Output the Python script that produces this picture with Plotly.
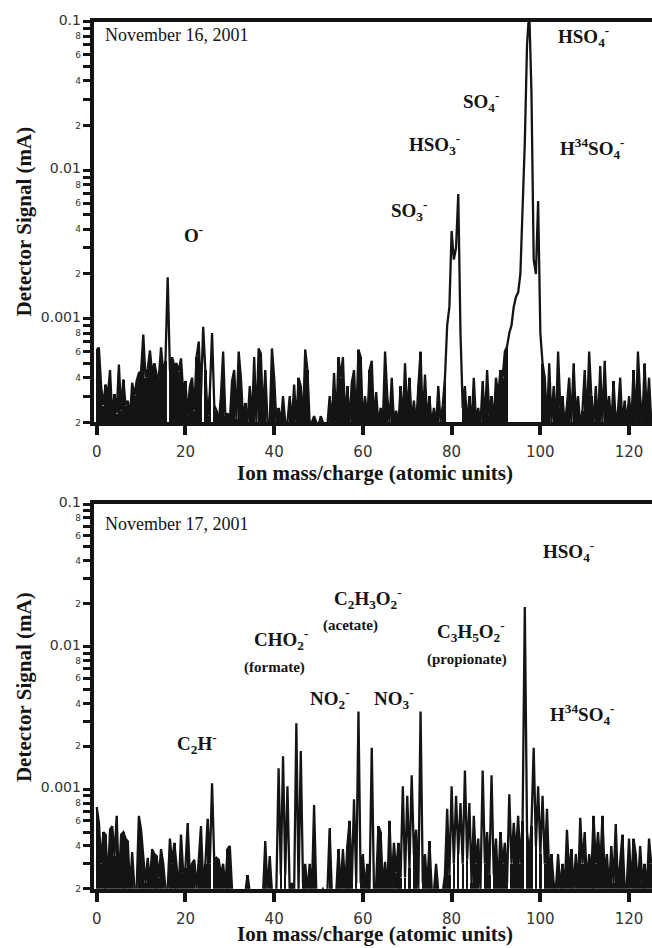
import numpy as np
import plotly.graph_objects as go

# ---- data (signal in units of 1e-4 mA, sampled every 0.5 amu from 0 to 125) ----
mass = np.arange(0, 125.5, 0.5)

nov16_e4 = [
    6.3, 6.3, 3.5, 2.6, 3.6, 3.0, 4.5, 2.2, 3.1, 2.3,
    4.9, 2.4, 3.9, 2.6, 2.8, 2.2, 3.7, 3.0, 3.8, 4.3,
    4.4, 7.8, 4.0, 4.6, 6.1, 4.3, 5.0, 4.2, 4.0, 6.4,
    4.3, 5.2, 19.0, 4.5, 5.5, 4.8, 5.0, 4.4, 5.4, 3.2,
    3.8, 2.2, 3.5, 4.0, 2.4, 5.5, 7.0, 3.0, 8.8, 4.5,
    2.2, 3.2, 8.0, 2.6, 2.4, 2.0, 3.0, 6.0, 2.2, 2.3,
    2.0, 3.8, 4.5, 2.1, 6.0, 4.0, 2.1, 2.7, 2.0, 3.5,
    2.1, 5.5, 2.0, 6.3, 5.8, 2.2, 4.5, 2.0, 2.0, 6.3,
    4.0, 2.0, 2.5, 2.0, 3.0, 2.0, 2.0, 3.0, 2.0, 3.6,
    2.0, 4.0, 3.5, 2.0, 6.2, 4.5, 2.0, 2.0, 2.2, 2.0,
    1.9, 2.2, 2.0, 1.9, 1.9, 3.0, 2.0, 4.3, 2.0, 5.5,
    4.0, 5.5, 2.0, 3.5, 2.0, 3.7, 4.5, 2.0, 6.2, 5.5,
    2.0, 3.0, 2.0, 4.5, 5.2, 2.0, 3.2, 1.9, 2.5, 2.0,
    6.0, 3.0, 2.0, 4.0, 2.0, 2.4, 1.9, 3.5, 2.0, 5.0,
    2.2, 4.0, 2.0, 2.8, 1.9, 3.5, 6.0, 2.0, 4.2, 2.0,
    3.0, 1.9, 2.5, 1.9, 3.5, 2.0, 2.6, 4.0, 9.0, 12.0,
    39.0, 25.0, 30.0, 69.0, 8.0, 2.5, 3.5, 1.9, 3.0, 1.9,
    4.0, 2.0, 2.5, 1.9, 3.8, 2.0, 4.5, 2.2, 3.0, 2.0,
    4.0, 3.0, 4.5, 4.0, 6.0, 6.5, 8.0, 9.0, 12.0, 14.0,
    15.0, 20.0, 60.0, 155.0, 700.0, 1200.0, 330.0, 25.0, 20.0, 62.0,
    8.0, 5.0, 4.0, 2.0, 5.0, 2.0, 3.5, 1.9, 6.0, 2.5,
    3.0, 1.9, 2.6, 4.0, 2.0, 5.0, 2.2, 3.0, 1.9, 2.4,
    4.5, 2.0, 6.0, 3.0, 2.0, 3.5, 1.9, 4.8, 2.0, 5.2,
    2.2, 3.0, 1.9, 3.8, 2.0, 2.4, 4.0, 1.9, 2.8, 2.0,
    3.0, 1.9, 4.5, 2.0, 6.0, 3.0, 2.0, 5.0, 2.2, 4.0,
    2.0,
]

nov17_e4 = [
    7.5, 5.8, 3.0, 5.0, 4.8, 2.2, 5.2, 5.5, 3.4, 6.5,
    2.2, 4.8, 5.0, 4.5, 4.3, 2.0, 3.6, 2.0, 2.0, 6.5,
    5.2, 3.5, 2.2, 3.3, 2.2, 3.8, 3.5, 3.4, 2.4, 3.8,
    3.0, 2.0, 2.0, 4.5, 3.0, 4.2, 2.8, 2.0, 4.8, 2.6,
    2.8, 5.8, 2.5, 3.0, 3.2, 2.0, 3.2, 5.5, 2.2, 3.0,
    6.2, 3.0, 11.0, 3.1, 3.3, 3.2, 2.5, 3.0, 2.0, 3.8,
    4.0, 2.0, 1.9, 1.9, 1.9, 1.9, 1.9, 1.9, 2.5, 1.9,
    1.9, 1.9, 1.9, 1.9, 1.9, 1.9, 4.3, 1.9, 3.4, 1.9,
    1.9, 2.0, 14.0, 2.5, 17.0, 2.5, 10.5, 1.9, 2.2, 1.9,
    29.0, 2.0, 18.5, 2.2, 3.0, 1.9, 3.0, 1.9, 7.7, 1.9,
    1.9, 1.9, 2.0, 1.9, 1.9, 5.3, 1.9, 1.9, 1.9, 3.8,
    2.0, 3.8, 2.0, 4.0, 6.0, 2.2, 8.5, 2.2, 35.0, 2.2,
    3.5, 2.0, 3.0, 2.0, 19.5, 2.0, 2.2, 5.5, 5.0, 2.0,
    3.1, 1.9, 6.0, 2.2, 4.2, 2.6, 4.2, 2.4, 10.5, 2.4,
    9.0, 2.8, 12.5, 3.5, 5.2, 2.0, 35.0, 2.2, 3.5, 2.0,
    4.3, 2.0, 1.9, 3.0, 1.9, 1.9, 1.9, 2.5, 7.3, 2.5,
    10.5, 3.0, 9.0, 3.5, 8.0, 3.0, 13.5, 3.2, 8.0, 2.2,
    6.5, 3.0, 4.5, 2.0, 13.5, 3.0, 5.0, 2.5, 12.5, 2.5,
    4.5, 2.0, 5.0, 3.0, 4.2, 2.2, 9.2, 3.0, 5.8, 3.5,
    6.5, 3.0, 6.0, 190.0, 5.0, 3.5, 5.5, 19.5, 4.0, 10.5,
    3.5, 9.0, 3.0, 7.3, 2.5, 3.5, 2.2, 2.0, 3.5, 2.0,
    3.0, 2.0, 5.2, 2.5, 3.8, 2.0, 3.5, 2.0, 6.3, 3.0,
    5.0, 2.2, 3.5, 2.5, 6.5, 3.0, 5.0, 2.8, 6.5, 2.5,
    3.5, 2.0, 4.0, 2.2, 5.7, 2.0, 3.0, 4.8, 2.0, 2.2,
    4.5, 2.0, 4.5, 3.5, 2.0, 4.0, 2.2, 3.0, 2.0, 4.5,
    3.0,
]

x_ticks = [0, 20, 40, 60, 80, 100, 120]
dates = ["November 16, 2001", "November 17, 2001"]

# ion labels: (text, mass, log10 signal, size)
labels16 = [
    ("O<sup>-</sup>", 21.8, -2.43, 19),
    ("SO<sub>3</sub><sup>-</sup>", 70.3, -2.27, 19),
    ("HSO<sub>3</sub><sup>-</sup>", 76.2, -1.825, 19),
    ("SO<sub>4</sub><sup>-</sup>", 86.7, -1.54, 19),
    ("HSO<sub>4</sub><sup>-</sup>", 109.7, -1.10, 19),
    ("H<sup>34</sup>SO<sub>4</sub><sup>-</sup>", 111.7, -1.853, 19),
]
labels17 = [
    ("C<sub>2</sub>H<sup>-</sup>", 22.5, -2.677, 19),
    ("CHO<sub>2</sub><sup>-</sup>", 41.6, -1.952, 19),
    ("(formate)", 40.0, -2.146, 15),
    ("C<sub>2</sub>H<sub>3</sub>O<sub>2</sub><sup>-</sup>", 61.1, -1.663, 19),
    ("(acetate)", 57.3, -1.849, 15),
    ("NO<sub>2</sub><sup>-</sup>", 52.6, -2.366, 19),
    ("NO<sub>3</sub><sup>-</sup>", 67.0, -2.366, 19),
    ("C<sub>3</sub>H<sub>5</sub>O<sub>2</sub><sup>-</sup>", 84.3, -1.897, 19),
    ("(propionate)", 83.4, -2.090, 15),
    ("HSO<sub>4</sub><sup>-</sup>", 106.3, -1.331, 19),
    ("H<sup>34</sup>SO<sub>4</sub><sup>-</sup>", 109.4, -2.477, 19),
]

# ---- build figure ----
W, H = 652, 948
serif = "Liberation Serif"
tickfont_family = "DejaVu Sans"
INK = "#141414"
NOISE_LEVEL = 8e-4   # samples below this are drawn as dense needles

# y tick values / labels (log axis 2e-4 .. 0.1)
yvals, ytext = [], []
for dec in [1e-4, 1e-3, 1e-2]:
    for m in range(1, 10):
        v = m * dec
        if v < 2e-4 - 1e-12:
            continue
        yvals.append(v)
        if m == 1:
            s = {1e-3: "0.001", 1e-2: "0.01"}[dec]
            ytext.append(f"<span style='font-size:14px'>{s}</span>")
        elif m % 2 == 0:
            ytext.append(str(m))
        else:
            ytext.append("")
yvals.append(0.1)
ytext.append("<span style='font-size:14px'>0.1</span>")

fig = go.Figure()
for sig, xa, ya in [(nov16_e4, "x", "y"), (nov17_e4, "x2", "y2")]:
    yv = np.array(sig) * 1e-4
    needles = np.where(yv < NOISE_LEVEL, yv, np.nan)
    fig.add_trace(go.Bar(x=mass, y=needles, width=0.4, marker=dict(color=INK, line=dict(width=0)),
                         xaxis=xa, yaxis=ya, showlegend=False, hoverinfo="skip"))
    fig.add_trace(go.Scatter(x=mass, y=yv, mode="lines", line=dict(color=INK, width=2.3),
                             xaxis=xa, yaxis=ya, showlegend=False, hoverinfo="skip"))

xr = [(92 - 95) / 4.45, (652 - 95) / 4.45]
yr = [np.log10(2e-4), -1]

def xaxis_cfg(anchor):
    return dict(domain=[92 / W, 1.0], range=xr, anchor=anchor,
                showgrid=False, zeroline=False,
                showline=True, linecolor=INK, linewidth=4, mirror=True,
                ticks="outside", ticklen=9, tickwidth=4, tickcolor=INK,
                tickvals=x_ticks, ticktext=[str(t) for t in x_ticks],
                ticklabelstandoff=4,
                tickfont=dict(family=tickfont_family, size=15, color="#333"))

def yaxis_cfg(anchor, domain):
    return dict(domain=domain, type="log", range=yr, anchor=anchor,
                showgrid=False, zeroline=False,
                showline=True, linecolor=INK, linewidth=4, mirror=False,
                ticks="outside", ticklen=7, tickwidth=3, tickcolor=INK,
                tickvals=yvals, ticktext=ytext,
                tickfont=dict(family=tickfont_family, size=9, color="#333"))

fig.update_layout(
    width=W, height=H,
    margin=dict(l=0, r=0, t=0, b=0),
    paper_bgcolor="white", plot_bgcolor="white",
    bargap=0,
    xaxis=xaxis_cfg("y"),
    yaxis=yaxis_cfg("x", [1 - 419 / H, 1 - 12 / H]),
    xaxis2=xaxis_cfg("y2"),
    yaxis2=yaxis_cfg("x2", [1 - 893 / H, 1 - 502 / H]),
)

ann = []
for (xr_, yr_), labs, date in [(("x", "y"), labels16, dates[0]), (("x2", "y2"), labels17, dates[1])]:
    ann.append(dict(text=date, x=1.4, y=-1.09 if xr_ == "x" else -1.14, xref=xr_, yref=yr_,
                    xanchor="left", yanchor="middle", showarrow=False,
                    font=dict(family=serif, size=18, color=INK)))
    for t, xm, ly, sz in labs:
        ann.append(dict(text=f"<b>{t}</b>", x=xm, y=ly, xref=xr_, yref=yr_,
                        xanchor="center", yanchor="middle", showarrow=False,
                        font=dict(family=serif, size=sz, color=INK)))

for cy in [215, 688]:
    ann.append(dict(text="<b>Detector Signal (mA)</b>", x=22 / W, y=1 - cy / H,
                    xref="paper", yref="paper", textangle=-90, showarrow=False,
                    xanchor="center", yanchor="middle",
                    font=dict(family=serif, size=21, color=INK)))
for cy in [470, 939]:
    ann.append(dict(text="<b>Ion mass/charge (atomic units)</b>", x=374 / W, y=1 - cy / H,
                    xref="paper", yref="paper", showarrow=False,
                    xanchor="center", yanchor="middle",
                    font=dict(family=serif, size=21, color=INK)))

fig.update_layout(annotations=ann)
fig.write_html("out.html")
